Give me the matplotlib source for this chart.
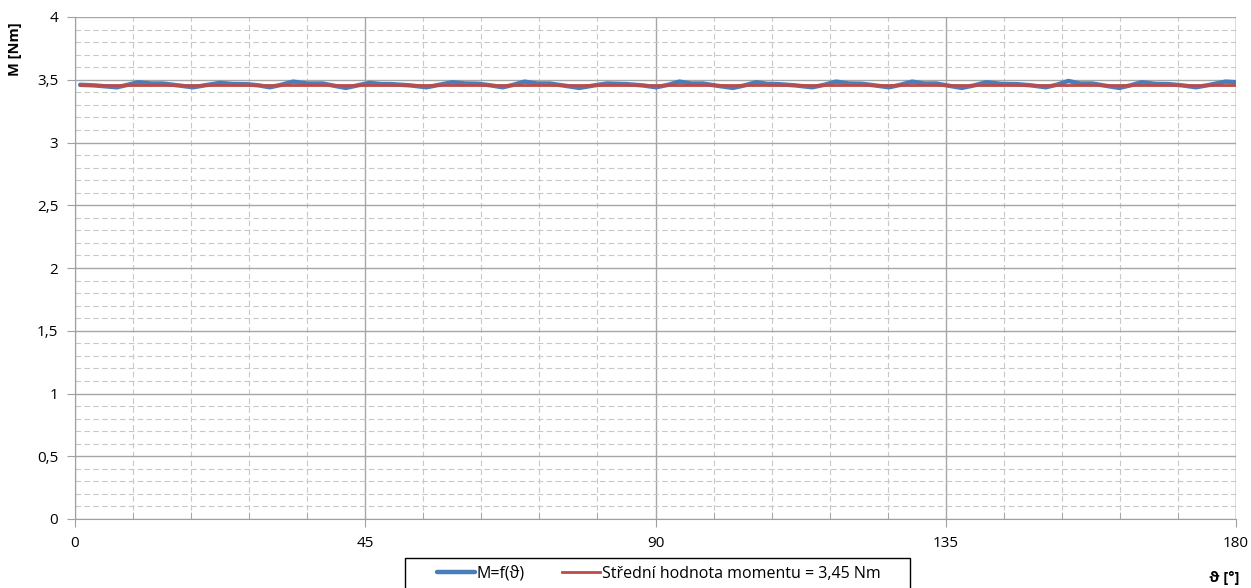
import numpy as np
import matplotlib.pyplot as plt
from matplotlib.patches import Rectangle
from matplotlib.ticker import MultipleLocator, FuncFormatter

# data: angle [deg] and torque [Nm]
theta = [0.8, 3, 6.5, 8.2, 9.8, 11.8, 13.6, 16, 18.3, 20.4, 22.5, 24.5, 26.6, 28.5,
         30.2, 32, 33.8, 36, 38.4, 40.2, 42, 43.8, 45.7, 47.3, 49, 52, 54.5, 56.5,
         58.5, 60.5, 62.5, 64.5, 66.3, 68, 69.7, 71.6, 73.6, 76, 78.2, 80.5, 82.5,
         85.5, 88, 90.1, 92, 93.7, 95.5, 97.3, 99.6, 102, 103.8, 105.6, 107.3, 109,
         111.7, 114.3, 116.2, 118, 120, 122, 124, 126.2, 128, 129.8, 131.6, 133.5,
         135.5, 137.5, 139.4, 141.3, 143.6, 146, 148.3, 150.5, 152.2, 154, 155.8,
         157.7, 159.8, 161.9, 163.6, 165.4, 167.5, 169.6, 171.7, 173.8, 176, 178.4, 180]
moment = [3.46, 3.455, 3.44, 3.46, 3.48, 3.47, 3.47, 3.455, 3.44, 3.458, 3.475, 3.466,
          3.465, 3.455, 3.44, 3.46, 3.485, 3.47, 3.47, 3.452, 3.435, 3.455, 3.475, 3.466,
          3.465, 3.455, 3.44, 3.46, 3.48, 3.47, 3.468, 3.455, 3.44, 3.46, 3.485, 3.47,
          3.47, 3.452, 3.435, 3.455, 3.47, 3.465, 3.455, 3.44, 3.46, 3.485, 3.47, 3.47,
          3.452, 3.435, 3.455, 3.48, 3.467, 3.465, 3.455, 3.44, 3.46, 3.485, 3.47, 3.468,
          3.455, 3.44, 3.46, 3.485, 3.47, 3.47, 3.452, 3.435, 3.455, 3.48, 3.467, 3.465,
          3.455, 3.44, 3.46, 3.49, 3.47, 3.47, 3.452, 3.435, 3.455, 3.48, 3.467, 3.465,
          3.455, 3.44, 3.46, 3.485, 3.48]
mean_x = [0.8, 180]
mean_y = [3.457, 3.457]

plt.rcParams['font.family'] = ['Open Sans', 'DejaVu Sans']

fig = plt.figure(figsize=(12.51, 5.88), dpi=100)
ax = fig.add_axes([75/1251, 69/588, 1161/1251, 502/588])

ax.plot(theta, moment, color='#4a7ebb', lw=3.2, solid_capstyle='round',
        solid_joinstyle='round', zorder=3, label='M=f(ϑ)')
ax.plot(mean_x, mean_y, color='#be4b48', lw=2, zorder=4,
        label='Střední hodnota momentu = 3,45 Nm')

ax.set_xlim(0, 180)
ax.set_ylim(0, 4)
ax.xaxis.set_major_locator(MultipleLocator(45))
ax.xaxis.set_minor_locator(MultipleLocator(9))
ax.yaxis.set_major_locator(MultipleLocator(0.5))
ax.yaxis.set_minor_locator(MultipleLocator(0.1))
ax.yaxis.set_major_formatter(FuncFormatter(lambda v, p: ('%g' % v).replace('.', ',')))

ax.grid(which='major', color='#a6a6a6', lw=1, ls='-')
ax.grid(which='minor', color='#c8c8c8', lw=0.8, ls=(0, (5, 3)))
ax.set_axisbelow(True)

for s in ['top', 'right']:
    ax.spines[s].set_visible(False)
for s in ['left', 'bottom']:
    ax.spines[s].set_color('#a0a0a0')
ax.axvline(180, color='#a0a0a0', lw=1)

ax.tick_params(which='major', direction='out', length=6, color='#a0a0a0',
               labelsize=11, pad=6)
ax.tick_params(axis='x', which='minor', direction='in', length=5, color='#a0a0a0')
ax.tick_params(axis='y', which='minor', length=0)

fig.text(15/1251, 1 - 49/588, 'M [Nm]', rotation=90, fontsize=10.5, fontweight='bold',
         ha='center', va='center')
fig.text(1224/1251, 1 - 578/588, 'ϑ [°]', fontsize=10.5, fontweight='bold',
         ha='center', va='center')

leg = fig.legend(loc='center left', bbox_to_anchor=(437/1251, 1 - 574/588), ncol=2,
                 frameon=False, fontsize=11.5, handlelength=2.4,
                 handletextpad=0.1, columnspacing=2.3, borderpad=0, borderaxespad=0)
fig.patches.append(Rectangle((405/1251, -0.02), 505/1251, 0.02 + 30/588,
                             transform=fig.transFigure, fill=False,
                             edgecolor='black', lw=1))

fig.savefig('out.png', dpi=100)
